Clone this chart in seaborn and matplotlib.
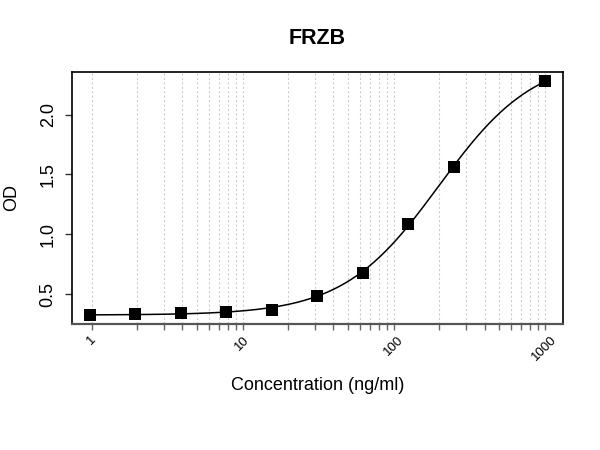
import numpy as np
import pandas as pd
import matplotlib
matplotlib.use('Agg')
import matplotlib.pyplot as plt
import seaborn as sns

# standard curve
conc = [0.98, 1.95, 3.9, 7.8, 15.6, 31.25, 62.5, 125, 250, 1000]
od = [0.328, 0.331, 0.345, 0.353, 0.370, 0.481, 0.680, 1.087, 1.561, 2.278]
x_major = [1, 10, 100, 1000]
x_labels = ['1', '10', '100', '1000']
y_ticks = [0.5, 1.0, 1.5, 2.0]

df = pd.DataFrame({'conc': conc, 'od': od})


# 4PL fit: od = d + (a - d) / (1 + (x / c) ** b)
def fit_4pl(x, y):
    lx = np.log(x)
    best = None
    for a in np.linspace(0.15, y.min() - 0.001, 80):
        for d in np.linspace(y.max() + 0.005, 4.0, 250):
            z = np.log((y - a) / (d - y))
            w = (y - a) * (d - y) / (d - a)
            b, k = np.polyfit(lx, z, 1, w=w)
            c = np.exp(-k / b)
            pred = d + (a - d) / (1 + (x / c) ** b)
            sse = ((pred - y) ** 2).sum()
            if best is None or sse < best[0]:
                best = (sse, a, b, c, d)
    return best[1:]


a, b, c, d = fit_4pl(np.array(conc), np.array(od))
xs = np.geomspace(conc[0], conc[-1], 400)
curve = pd.DataFrame({'conc': xs, 'od': d + (a - d) / (1 + (xs / c) ** b)})

sns.set_style('white')
plt.rcParams['font.family'] = ['Liberation Sans', 'DejaVu Sans']
plt.rcParams['text.color'] = 'black'
plt.rcParams['axes.labelcolor'] = 'black'
plt.rcParams['xtick.labelcolor'] = 'black'
plt.rcParams['ytick.labelcolor'] = 'black'

fig = plt.figure(figsize=(6, 4.5), dpi=100)
ax = fig.add_axes([0.12, 0.28, 0.818, 0.56])

sns.lineplot(data=curve, x='conc', y='od', color='black', lw=1.1, ax=ax)
sns.scatterplot(data=df, x='conc', y='od', marker='s', s=75, color='black',
                edgecolor='black', linewidth=0, zorder=5, ax=ax)

ax.set_xscale('log')
lo, hi = np.log10(conc[0]), np.log10(conc[-1])
pad = (hi - lo) * 0.04
ax.set_xlim(10 ** (lo - pad), 10 ** (hi + pad))
ypad = (max(od) - min(od)) * 0.04
ax.set_ylim(min(od) - ypad, max(od) + ypad)

minor = [m * 10 ** e for e in range(3) for m in range(2, 10)]
ax.set_xticks(x_major)
ax.set_xticklabels(x_labels)
ax.set_xticks(minor, minor=True)
ax.xaxis.set_minor_formatter(matplotlib.ticker.NullFormatter())
for v in x_major + minor:
    ax.axvline(v, color='#cccccc', lw=0.8, ls=(0, (2, 2)), zorder=0)

ax.set_yticks(y_ticks)
ax.set_yticklabels(['0.5', '1.0', '1.5', '2.0'])

ax.tick_params(axis='x', which='both', bottom=True, length=4, width=1, color='#666666',
               labelsize=9.5, pad=3)
ax.tick_params(axis='y', left=True, length=5, width=1, color='#333333', labelsize=13, pad=6)
plt.setp(ax.get_xticklabels(), rotation=45, ha='center')
plt.setp(ax.get_yticklabels(), rotation=90, va='center')

for s in ax.spines.values():
    s.set_color('black')
    s.set_linewidth(1.2)
ax.spines['bottom'].set_color('#555555')
ax.spines['bottom'].set_linewidth(1.6)

ax.set_title('FRZB', fontsize=15.5, fontweight='bold', pad=20)
ax.set_xlabel('Concentration (ng/ml)', fontsize=13, labelpad=10)
ax.set_ylabel('OD', fontsize=13, labelpad=14)

fig.savefig('out.png', dpi=100)
